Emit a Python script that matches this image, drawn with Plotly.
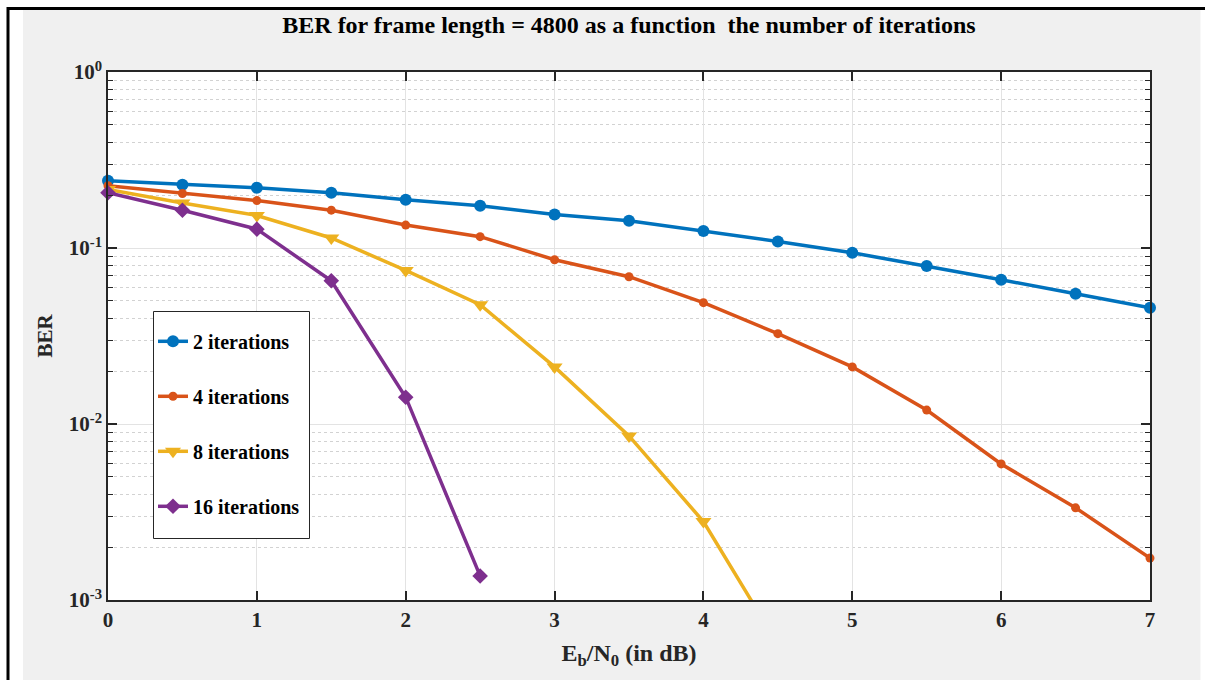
import plotly.graph_objects as go

ebn0 = [0, 0.5, 1, 1.5, 2, 2.5, 3, 3.5, 4, 4.5, 5, 5.5, 6, 6.5, 7]
ber_2 = [0.241, 0.229, 0.220, 0.206, 0.188, 0.174, 0.155, 0.143, 0.125, 0.109,
         0.094, 0.079, 0.066, 0.055, 0.0457]
ber_4 = [0.226, 0.204, 0.186, 0.164, 0.135, 0.116, 0.0858, 0.0687, 0.0489, 0.0326,
         0.0211, 0.0120, 0.00593, 0.00334, 0.00173]
ebn0_8 = [0, 0.5, 1, 1.5, 2, 2.5, 3, 3.5, 4, 4.5]
ber_8 = [0.215, 0.180, 0.153, 0.114, 0.0746, 0.0476, 0.0211, 0.00855, 0.00279, 0.00056]
ebn0_16 = [0, 0.5, 1, 1.5, 2, 2.5]
ber_16 = [0.206, 0.164, 0.128, 0.0651, 0.0142, 0.00137]

x_ticks = [0, 1, 2, 3, 4, 5, 6, 7]
y_tickvals = [1e-3, 1e-2, 1e-1, 1]
y_ticktext = ["10<sup>-3</sup>", "10<sup>-2</sup>", "10<sup>-1</sup>", "10<sup>0</sup>"]
y_minor = [0.002, 0.003, 0.004, 0.005, 0.006, 0.007, 0.008, 0.009,
           0.02, 0.03, 0.04, 0.05, 0.06, 0.07, 0.08, 0.09,
           0.2, 0.3, 0.4, 0.5, 0.6, 0.7, 0.8, 0.9]

FONT = "Liberation Serif"
W, H = 1205, 680
L, R, T, B = 108, 1150, 72, 600

def px(xp):
    return (xp - L) / (R - L)

def py(yp):
    return (B - yp) / (B - T)

fig = go.Figure()
fig.add_trace(go.Scatter(x=ebn0, y=ber_2, name="2 iterations", legendgroup="a",
                         mode="lines+markers", cliponaxis=False,
                         line=dict(color="#0072BD", width=3.5),
                         marker=dict(symbol="circle", size=12, color="#0072BD")))
fig.add_trace(go.Scatter(x=ebn0, y=ber_4, name="4 iterations", legendgroup="b",
                         mode="lines+markers", cliponaxis=False,
                         line=dict(color="#D95319", width=3.5),
                         marker=dict(symbol="circle", size=9, color="#D95319")))
fig.add_trace(go.Scatter(x=ebn0_8, y=ber_8, name="8 iterations", legendgroup="c",
                         mode="lines+markers", cliponaxis=True,
                         line=dict(color="#EDB120", width=3.5),
                         marker=dict(symbol="triangle-down", size=14, color="#EDB120")))
fig.add_trace(go.Scatter(x=ebn0_16, y=ber_16, name="16 iterations", legendgroup="d",
                         mode="lines+markers", cliponaxis=False,
                         line=dict(color="#7E2F8E", width=3.5),
                         marker=dict(symbol="diamond", size=12, color="#7E2F8E")))

axis_common = dict(
    showline=True, linecolor="#262626", linewidth=1.5, mirror="ticks",
    ticks="inside", tickcolor="#262626", tickwidth=1.5, ticklen=9,
    showgrid=True, gridcolor="#e3e3e3", gridwidth=1, zeroline=False,
    tickfont=dict(family=FONT, size=21, color="#262626", weight="bold"),
)

fig.update_xaxes(range=[0, 7], tickmode="array", tickvals=x_ticks,
                 title=dict(text="E<sub>b</sub>/N<sub>0</sub> (in dB)", standoff=13,
                            font=dict(family=FONT, size=24, color="#262626", weight="bold")),
                 **axis_common)
fig.update_yaxes(type="log", range=[-3, 0], tickmode="array",
                 tickvals=y_tickvals, ticktext=y_ticktext,
                 minor=dict(tickmode="array", tickvals=y_minor,
                            ticks="inside", ticklen=5, tickcolor="#262626", tickwidth=1,
                            showgrid=True, gridcolor="#d2d2d2", griddash="dot", gridwidth=1),
                 title=dict(text="BER", standoff=10,
                            font=dict(family=FONT, size=21, color="#262626", weight="bold")),
                 **axis_common)

shapes = [
    # legend box (MATLAB style, drawn over the lines)
    dict(type="rect", xref="paper", yref="paper", x0=px(153.5), x1=px(309.5), y0=py(538.5), y1=py(311.5),
         fillcolor="white", line=dict(color="#262626", width=1), layer="above"),
    # white strips around the gray figure area
    dict(type="rect", xref="paper", yref="paper", x0=px(0), x1=px(23), y0=py(0), y1=py(H + 5),
         fillcolor="white", line=dict(width=0), layer="above"),
    dict(type="rect", xref="paper", yref="paper", x0=px(1200.5), x1=px(1210), y0=py(0), y1=py(H + 5),
         fillcolor="white", line=dict(width=0), layer="above"),
    dict(type="rect", xref="paper", yref="paper", x0=px(0), x1=px(1210), y0=py(-5), y1=py(9.5),
         fillcolor="white", line=dict(width=0), layer="above"),
    # black frame lines (top and left)
    dict(type="line", xref="paper", yref="paper", x0=px(7), x1=px(1210), y0=py(8.5), y1=py(8.5),
         line=dict(color="black", width=3), layer="above"),
    dict(type="line", xref="paper", yref="paper", x0=px(8), x1=px(8), y0=py(7), y1=py(H + 5),
         line=dict(color="black", width=3), layer="above"),
]

fig.update_layout(
    width=W, height=H,
    margin=dict(l=L, r=W - R, t=T, b=H - B, pad=0),
    paper_bgcolor="#f0f0f0", plot_bgcolor="white",
    font=dict(family=FONT, color="#262626"),
    title=dict(text="BER for frame length = 4800 as a function \u00a0the number of iterations",
               xref="container", x=629 / W, xanchor="center", y=1 - 25 / H, yanchor="middle",
               font=dict(family=FONT, size=24, color="black", weight="bold")),
    showlegend=True,
    legend=dict(x=px(153), y=py(314), xanchor="left", yanchor="top",
                bgcolor="rgba(0,0,0,0)", borderwidth=0,
                font=dict(family=FONT, size=20, color="black", weight="bold"),
                title=dict(text=" ", font=dict(size=6)),
                traceorder="grouped", tracegroupgap=26, itemwidth=30),
    shapes=shapes,
)

fig.write_html("out.html", config={"displayModeBar": False},
               post_script="document.body.style.margin='0';")
